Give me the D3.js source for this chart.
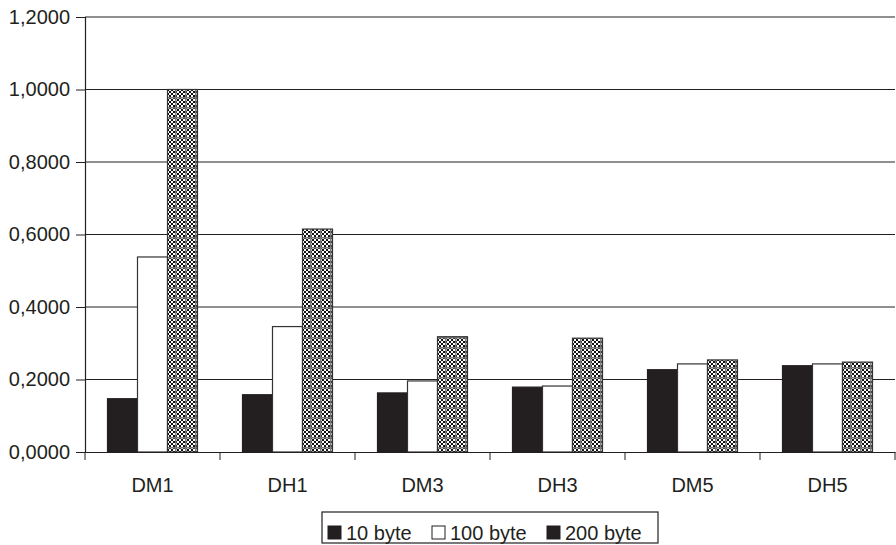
<!DOCTYPE html>
<html>
<head>
<meta charset="utf-8">
<script src="https://cdn.jsdelivr.net/npm/d3@7"></script>
<style>
  body { margin: 0; background: #fff; }
  svg { display: block; font-family: "Liberation Sans", Arial, sans-serif; }
</style>
</head>
<body>
<div id="chart"></div>
<script>
// data
const categories = ["DM1", "DH1", "DM3", "DH3", "DM5", "DH5"];
const seriesNames = ["10 byte", "100 byte", "200 byte"];
const bytes10  = [0.147, 0.158, 0.163, 0.179, 0.227, 0.238];
const bytes100 = [0.538, 0.346, 0.196, 0.182, 0.243, 0.243];
const bytes200 = [1.000, 0.615, 0.318, 0.314, 0.254, 0.248];
const yTicks = [0, 0.2, 0.4, 0.6, 0.8, 1.0, 1.2];

const seriesValues = [bytes10, bytes100, bytes200];
const data = categories.map((c, i) => ({
  cat: c,
  vals: seriesNames.map((s, j) => ({ key: s, value: seriesValues[j][i] }))
}));

const W = 896, H = 545;
const margin = { top: 17, right: 1, bottom: 93, left: 85 };
const width = W - margin.left - margin.right;
const height = H - margin.top - margin.bottom;
const fontSize = "20px";

const svg = d3.select("#chart").append("svg")
    .attr("width", W)
    .attr("height", H);

// checker fill for the 200 byte bars
const defs = svg.append("defs");
const pat = defs.append("pattern")
    .attr("id", "checker")
    .attr("patternUnits", "userSpaceOnUse")
    .attr("width", 10).attr("height", 10);
pat.append("rect").attr("width", 10).attr("height", 10).attr("fill", "#fff");
for (let r = 0; r < 5; r++) {
  for (let c = 0; c < 5; c++) {
    if ((r + c) % 2 === 0) {
      pat.append("rect").attr("x", c * 2).attr("y", r * 2)
        .attr("width", 2).attr("height", 2).attr("fill", "#111");
    }
  }
}
pat.append("rect").attr("x", 0).attr("y", 0).attr("width", 10).attr("height", 1.5).attr("fill", "#7a7a7a");
pat.append("rect").attr("x", 0).attr("y", 0).attr("width", 1.5).attr("height", 10).attr("fill", "#7a7a7a");

const colors = d3.scaleOrdinal()
    .domain(seriesNames)
    .range(["#231f20", "#ffffff", "url(#checker)"]);
const strokes = d3.scaleOrdinal()
    .domain(seriesNames)
    .range(["#231f20", "#333333", "#333333"]);

const g = svg.append("g")
    .attr("transform", `translate(${margin.left},${margin.top})`);

const x0 = d3.scaleBand()
    .domain(categories)
    .range([0, width])
    .padding(0);

const x1 = d3.scaleBand()
    .domain(seriesNames)
    .range([x0.bandwidth() / 6, x0.bandwidth() * 5 / 6])
    .padding(0);

const y = d3.scaleLinear()
    .domain([0, 1.2])
    .range([height, 0]);

const fmt = d => d3.format(".4f")(d).replace(".", ",");

// gridlines
g.append("g")
  .selectAll("line")
  .data(yTicks.filter(d => d > 0))
  .join("line")
    .attr("x1", 0)
    .attr("x2", width)
    .attr("y1", d => y(d))
    .attr("y2", d => y(d))
    .attr("stroke", "#231f20")
    .attr("stroke-width", 1);

// bars
g.append("g")
  .selectAll("g")
  .data(data)
  .join("g")
    .attr("transform", d => `translate(${x0(d.cat)},0)`)
  .selectAll("rect")
  .data(d => d.vals)
  .join("rect")
    .attr("x", d => x1(d.key))
    .attr("y", d => y(d.value))
    .attr("width", x1.bandwidth())
    .attr("height", d => height - y(d.value))
    .attr("fill", d => colors(d.key))
    .attr("stroke", d => strokes(d.key))
    .attr("stroke-width", 1.2);

// y axis
const yAxis = g.append("g")
    .call(d3.axisLeft(y).tickValues(yTicks).tickFormat(fmt).tickSize(9).tickPadding(6));
yAxis.select(".domain").attr("stroke", "#231f20").attr("stroke-width", 1.2);
yAxis.selectAll(".tick line").attr("stroke", "#231f20");
yAxis.selectAll("text")
    .style("font-size", fontSize)
    .style("font-family", "'Liberation Sans', Arial, sans-serif")
    .attr("fill", "#231f20");

// x axis with ticks between categories
const xAxis = g.append("g")
    .attr("transform", `translate(0,${height})`)
    .call(d3.axisBottom(x0).tickSize(0).tickPadding(26));
xAxis.select(".domain").attr("stroke", "#231f20").attr("stroke-width", 1.2);
xAxis.selectAll("text")
    .style("font-size", fontSize)
    .style("font-family", "'Liberation Sans', Arial, sans-serif")
    .attr("fill", "#231f20");
xAxis.append("g")
  .selectAll("line")
  .data(categories.map(c => x0(c)).concat([width]))
  .join("line")
    .attr("x1", d => d).attr("x2", d => d)
    .attr("y1", 0).attr("y2", 8)
    .attr("stroke", "#231f20");

// legend
const legend = svg.append("g");
legend.append("rect")
    .attr("x", 322).attr("y", 512)
    .attr("width", 336).attr("height", 31)
    .attr("fill", "#fff")
    .attr("stroke", "#231f20")
    .attr("stroke-width", 1.2);

const legX = [328, 432, 547];
const items = legend.selectAll("g.item")
  .data(seriesNames)
  .join("g")
    .attr("class", "item")
    .attr("transform", (d, i) => `translate(${legX[i]},526)`);
items.append("rect")
    .attr("width", 13).attr("height", 13)
    .attr("fill", (d, i) => i === 2 ? "#231f20" : colors(d))
    .attr("stroke", "#231f20")
    .attr("stroke-width", 1);
items.append("text")
    .attr("x", 18)
    .attr("y", 13.5)
    .style("font-size", fontSize)
    .attr("fill", "#231f20")
    .text(d => d);
</script>
</body>
</html>
